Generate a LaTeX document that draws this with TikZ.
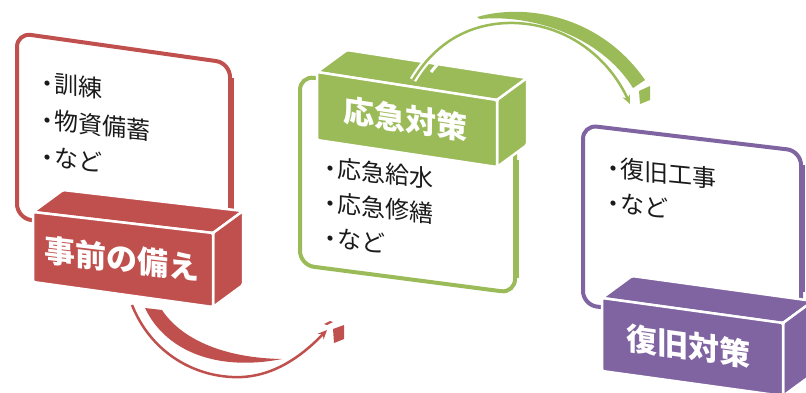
\documentclass[tikz,border=0pt]{standalone}
\usepackage{fontspec}
\newfontfamily\jp{Noto Sans CJK JP}
\usetikzlibrary{arrows.meta}
\definecolor{cred}{HTML}{C0504D}
\definecolor{cgreen}{HTML}{9BBB59}
\definecolor{cpurple}{HTML}{8064A2}
\definecolor{ctext}{HTML}{1A1A1A}
\newcommand\bul{・\kern-0.2em}
\begin{document}
\begin{tikzpicture}[x=1pt,y=-1pt,
  frame/.style={line width=4pt, rounded corners=14pt, line join=round},
  face/.style={draw=white, line width=2.5pt, line join=round, rounded corners=1.5pt},
  item/.style={anchor=base west, inner sep=0pt, text height=17pt, text depth=2pt, text=ctext, font=\jp\fontsize{24}{30}\selectfont, yslant=-0.1},
  boxlabel/.style={inner sep=0pt, text=white, font=\jp\bfseries\fontsize{31}{36}\selectfont},
  shaft/.style={line width=2.5pt},
]
\useasboundingbox (0,0) rectangle (806,392);
\clip (0,0) rectangle (806,392);

% ---------------- red group ----------------
\draw[frame, cred] (17,218) -- (17,33) -- (230,63) -- (230,248) -- cycle;
\draw[cred, line width=6pt] (231,78) -- (231,215);
\node[item] (r1) at (35,91) {\bul 訓練};
\node[item] (r2) at (35,128) {\bul 物資備蓄};
\node[item] (r3) at (35,165) {\bul など};
\fill[face, fill=cred] (33,212) -- (63,190) -- (243,211) -- (213,233) -- cycle;
\fill[face, fill=cred] (213,233) -- (243,211) -- (243,285) -- (213,307) -- cycle;
\fill[face, fill=cred] (33,212) -- (213,233) -- (213,307) -- (33,282) -- cycle;
\node[boxlabel, yslant=-0.117] (rlab) at (122,259) {事前の備え};
% red arrow
\coordinate (ra1) at (132,305);
\coordinate (ra2) at (327,330);
\draw[cred, shaft, -{Stealth[length=9pt,width=8pt]}] (ra1) .. controls (150,350) and (190,375) .. (232,377) .. controls (270,379) and (300,358) .. (ra2);
\fill[cred] (145,308) .. controls (165,350) and (215,372) .. (282,359) .. controls (225,358) and (182,340) .. (162,310) -- cycle;
\fill[cred] (333,329) -- (344,325) -- (344,339) -- (334,343) -- cycle;
\fill[cred] (324,324) -- (330,321) -- (333,322) -- (327,325) -- cycle;

% ---------------- green group ----------------
\draw[frame, cgreen] (300,265) -- (300,76) -- (515,104) -- (515,293) -- cycle;
\draw[cgreen, line width=6pt] (516,160) -- (516,278);
\node[item] (g1) at (318,176) {\bul 応急給水};
\node[item] (g2) at (318,211) {\bul 応急修繕};
\node[item] (g3) at (318,246) {\bul など};
\fill[face, fill=cgreen] (317,72) -- (347,50) -- (527,78) -- (497,100) -- cycle;
\fill[face, fill=cgreen] (497,100) -- (527,78) -- (527,145) -- (497,167) -- cycle;
\fill[face, fill=cgreen] (317,72) -- (497,100) -- (497,167) -- (317,140) -- cycle;
\node[boxlabel, yslant=-0.15] (glab) at (405,119) {応急対策};
% green arrow
\coordinate (ga1) at (413,80);
\coordinate (ga2) at (630,104);
\draw[white, line width=7pt] (ga1) .. controls (440,35) and (480,22) .. (515,23);
\draw[white, line width=3pt] (431,72) -- (446,54);
\draw[cgreen, shaft, -{Stealth[length=9pt,width=8pt]}] (ga1) .. controls (440,35) and (480,22) .. (515,23) .. controls (570,25) and (610,60) .. (ga2);
\fill[cgreen] (477,17) .. controls (525,3) and (600,15) .. (645,80) -- (633,88) .. controls (600,35) and (530,14) .. (480,19) -- cycle;
\fill[cgreen] (639,91) -- (650,86) -- (650,100) -- (640,104) -- cycle;

% ---------------- purple group ----------------
\draw[frame, cpurple] (583,305) -- (583,125) -- (801,151) -- (801,330) -- cycle;
\draw[cpurple, line width=6pt] (802,165) -- (802,292);
\node[item] (p1) at (601,176) {\bul 復旧工事};
\node[item] (p2) at (601,211) {\bul など};
\fill[face, fill=cpurple] (602,298) -- (632,276) -- (813,301) -- (783,323) -- cycle;
\fill[face, fill=cpurple] (783,323) -- (813,301) -- (813,374) -- (783,396) -- cycle;
\fill[face, fill=cpurple] (602,298) -- (783,323) -- (783,396) -- (602,371) -- cycle;
\node[boxlabel, yslant=-0.138] (plab) at (688,346) {復旧対策};
\end{tikzpicture}
\end{document}
